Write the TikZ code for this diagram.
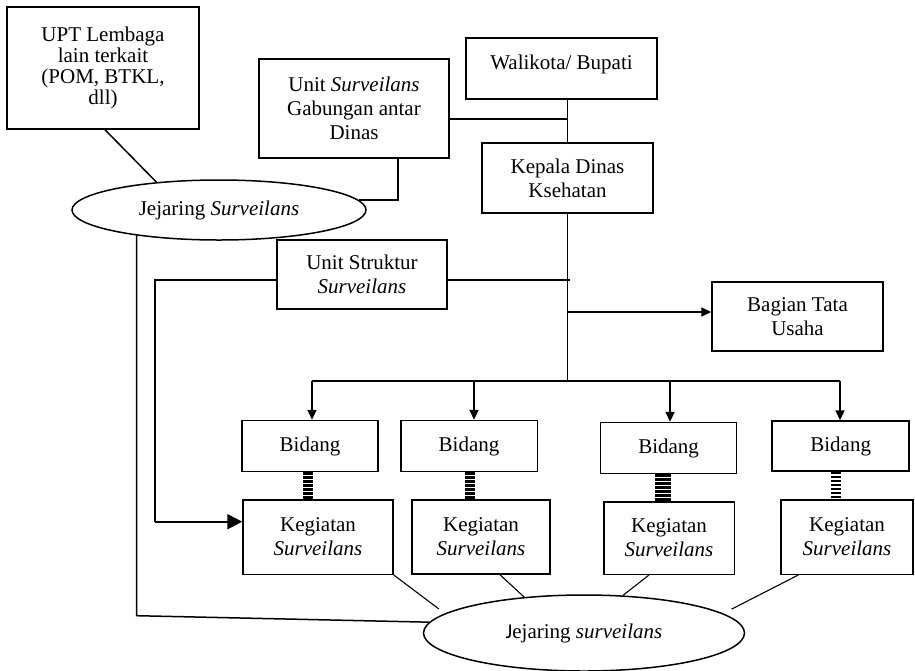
\documentclass[tikz,border=0pt]{standalone}
\usepackage{fontspec}
\setmainfont{Liberation Serif}
\newfontfamily\carl{Carlito}
\usetikzlibrary{shapes.geometric,arrows.meta}
\newcommand\fs{\fontsize{21}{24}\selectfont}
\tikzset{
  box/.style={draw, line width=1.5pt, inner sep=0pt, align=center, font=\fs},
  oval/.style={draw, ellipse, line width=1.5pt, inner sep=0pt, font=\fs},
  conn/.style={line width=1.5pt},
  thinconn/.style={line width=1.1pt},
  arr/.style={line width=2.2pt, -{Triangle[length=10pt,width=9pt]}},
  bigarr/.style={line width=2.4pt, -{Triangle[length=15pt,width=15pt]}},
  dashc/.style={line width=10.5pt, dash pattern=on 2.7pt off 1.3pt},
}
\begin{document}
\begin{tikzpicture}[x=1pt,y=-1pt]
\useasboundingbox (0,0) rectangle (915,670);
% boxes
\node[box, minimum width=192pt, minimum height=122pt, font=\fontsize{21}{21}\selectfont] (upt) at (103,68) {UPT Lembaga\\lain terkait\\(POM, BTKL,\\dll)};
\node[box, minimum width=190pt, minimum height=99pt] (gab) at (354,108.5) {Unit \textit{Surveilans}\\Gabungan antar\\Dinas};
\node[box, minimum width=191pt, minimum height=61pt, text height=15pt, text depth=14pt] (wali) at (561.5,68.5) {Walikota/ Bupati};
\node[box, minimum width=171pt, minimum height=70pt] (kep) at (567.5,178) {Kepala Dinas\\Ksehatan};
\node[box, minimum width=170pt, minimum height=69pt] (struk) at (362,274.5) {Unit Struktur\\\textit{Surveilans}};
\node[box, minimum width=171pt, minimum height=69pt] (bag) at (797.5,316.5) {Bagian Tata\\Usaha};
\node[box, minimum width=136pt, minimum height=51pt] (b1) at (310,446) {Bidang};
\node[box, minimum width=136.5pt, minimum height=51pt] (b2) at (469,446) {Bidang};
\node[box, minimum width=136pt, minimum height=51pt] (b3) at (668.6,448) {Bidang};
\node[box, minimum width=137pt, minimum height=50pt] (b4) at (840.7,446) {Bidang};
\node[box, minimum width=150pt, minimum height=74.5pt] (k1) at (318,537) {Kegiatan\\\textit{Surveilans}};
\node[box, minimum width=138pt, minimum height=74pt] (k2) at (481,537) {Kegiatan\\\textit{Surveilans}};
\node[box, minimum width=130.5pt, minimum height=72.5pt] (k3) at (669,538) {Kegiatan\\\textit{Surveilans}};
\node[box, minimum width=132pt, minimum height=74.5pt] (k4) at (847,537) {Kegiatan\\\textit{Surveilans}};
\node[oval, minimum width=294pt, minimum height=60pt] (jt) at (219,210) {Jejaring \textit{Surveilans}};
\node[oval, minimum width=321pt, minimum height=76pt] (jb) at (584,633) {{\carl J}ejaring \textit{surveilans}};
% helper coordinates
\coordinate (dj) at (567.5,381);
\coordinate (sr) at (570,280);
\coordinate (sl) at (155,280);
\coordinate (ky) at (155,521.7);
\coordinate (ll) at (136.7,615.7);
\coordinate (bj) at (567.5,312);
\coordinate (a1) at (312,381);
\coordinate (a2) at (474,381);
\coordinate (a3) at (670,381);
\coordinate (a4) at (840,381);
\coordinate (d1) at (308,0);
\coordinate (d2) at (470,0);
\coordinate (d3) at (663,0);
\coordinate (d4) at (836,0);
\coordinate (e2) at (500,0);
\coordinate (e3) at (649,0);
\coordinate (e4) at (798.3,0);
\coordinate (gx) at (398,0);
\coordinate (gy) at (0,119);
% connectors
\draw[conn] (upt.south -| 105,0) -- (jt.156);
\draw[conn] (gx |- gab.south) |- (jt.4);
\draw[conn] (gab.east |- gy) -- (kep.north |- gy);
\draw[conn] (kep.north |- wali.south) -- (kep.north);
\draw[conn] (kep.south) -- (dj);
\draw[conn] (struk.east |- sr) -- (sr);
\draw[conn] (struk.west |- sl) -- (sl) -- (ky);
\draw[bigarr] (ky) -- (k1.west |- ky);
\draw[arr] (bj) -- (bag.west |- bj);
\draw[conn] (a1) -- (a4);
\draw[arr] (a1) -- (a1 |- b1.north);
\draw[arr] (a2) -- (a2 |- b2.north);
\draw[arr] (a3) -- (a3 |- b3.north);
\draw[arr] (a4) -- (a4 |- b4.north);
\draw[dashc] (d1 |- b1.south) -- (d1 |- k1.north);
\draw[dashc] (d2 |- b2.south) -- (d2 |- k2.north);
\draw[dashc, line width=15.5pt] (d3 |- b3.south) -- (d3 |- k3.north);
\draw[dashc] (d4 |- b4.south) -- (d4 |- k4.north);
\draw[conn] (ll |- jt.197) -- (ll) -- (jb.176);
\draw[thinconn, shorten >=7.5pt] (k1.south east) -- (jb.172);
\draw[thinconn] (e2 |- k2.south) -- (jb.149.4);
\draw[thinconn] (e3 |- k3.south) -- (jb.44.5);
\draw[thinconn, shorten >=9.3pt] (e4 |- k4.south) -- (jb.8.2);
\end{tikzpicture}
\end{document}
